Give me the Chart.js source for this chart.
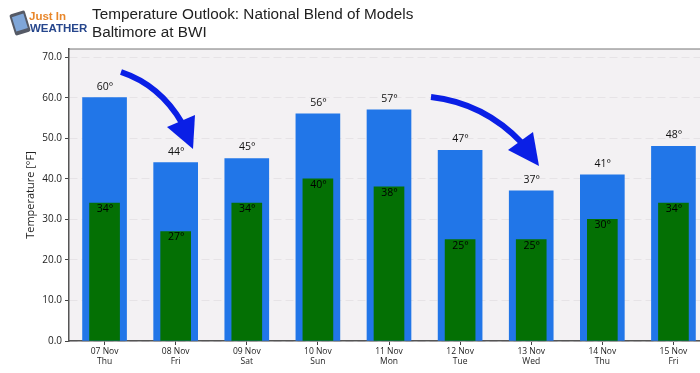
<!DOCTYPE html>
<html>
<head>
<meta charset="utf-8">
<style>
html, body { margin: 0; padding: 0; background: #fff; overflow: hidden; }
#wrap { position: relative; width: 700px; height: 373px; overflow: hidden; }
#wrap canvas { position: absolute; left: 0; top: 0; }
</style>
<script src="https://cdn.jsdelivr.net/npm/chart.js@4"></script>
</head>
<body>
<div id="wrap"><canvas id="diagram" width="709" height="373" style="width:709px;height:373px"></canvas></div>
<script>
const dates = ["07 Nov", "08 Nov", "09 Nov", "10 Nov", "11 Nov", "12 Nov", "13 Nov", "14 Nov", "15 Nov"];
const days = ["Thu", "Fri", "Sat", "Sun", "Mon", "Tue", "Wed", "Thu", "Fri"];
const highs = [60, 44, 45, 56, 57, 47, 37, 41, 48];
const lows = [34, 27, 34, 40, 38, 25, 25, 30, 34];
const titleLines = ["Temperature Outlook: National Blend of Models", "Baltimore at BWI"];

const tickFont = { family: "'Open Sans'", size: 8.5 };

function arrow(ctx, start, control, end, head) {
    ctx.strokeStyle = '#0a1fe6';
    ctx.fillStyle = '#0a1fe6';
    ctx.lineWidth = 6;
    ctx.beginPath();
    ctx.moveTo(start[0], start[1]);
    ctx.quadraticCurveTo(control[0], control[1], end[0], end[1]);
    ctx.stroke();
    ctx.beginPath();
    ctx.moveTo(head[0][0], head[0][1]);
    ctx.lineTo(head[1][0], head[1][1]);
    ctx.lineTo(head[2][0], head[2][1]);
    ctx.closePath();
    ctx.fill();
}

const backdrop = {
    id: 'backdrop',
    beforeDraw(chart) {
        const { ctx, chartArea: a } = chart;
        ctx.save();
        ctx.fillStyle = '#f3f1f3';
        ctx.fillRect(a.left, a.top, a.right - a.left, a.bottom - a.top);
        ctx.strokeStyle = '#777';
        ctx.lineWidth = 1;
        ctx.beginPath();
        ctx.moveTo(a.left, a.top);
        ctx.lineTo(a.right, a.top);
        ctx.stroke();
        ctx.restore();
    }
};

const overlay = {
    id: 'overlay',
    afterDraw(chart) {
        const { ctx } = chart;
        const x = chart.scales.x, y = chart.scales.y;
        ctx.save();

        // values over and inside the bars
        ctx.fillStyle = '#111';
        ctx.font = "10.5px 'Open Sans'";
        ctx.textAlign = 'center';
        ctx.textBaseline = 'middle';
        highs.forEach((v, i) => ctx.fillText(v + '°', x.getPixelForValue(i) + 0.5, y.getPixelForValue(v) - 11));
        ctx.fillStyle = '#000';
        lows.forEach((v, i) => ctx.fillText(v + '°', x.getPixelForValue(i) + 0.5, y.getPixelForValue(v) + 6));

        // arrows
        arrow(ctx, [121, 72], [160, 85], [182, 123], [[195, 115], [167, 127], [193, 149]]);
        arrow(ctx, [431, 97], [484, 103], [522, 143], [[533, 132], [508, 150], [539, 166]]);

        // title
        ctx.textAlign = 'left';
        ctx.textBaseline = 'alphabetic';
        ctx.fillStyle = '#222';
        ctx.font = "15.3px 'Liberation Sans'";
        titleLines.forEach((t, i) => ctx.fillText(t, 92, 19 + i * 17.5));

        // logo
        ctx.translate(20, 23);
        ctx.rotate(-0.3);
        ctx.fillStyle = '#555a66';
        ctx.beginPath();
        ctx.roundRect(-8, -11, 16, 22, 2);
        ctx.fill();
        ctx.fillStyle = '#7fa6d8';
        ctx.fillRect(-6, -8, 12, 15);
        ctx.setTransform(1, 0, 0, 1, 0, 0);
        ctx.fillStyle = '#e8862a';
        ctx.font = "bold 11.5px 'Liberation Sans'";
        ctx.fillText('Just In', 29, 20);
        ctx.fillStyle = '#26468c';
        ctx.font = "bold 11.5px 'Liberation Sans'";
        ctx.fillText('WEATHER', 30, 32);
        ctx.restore();
    }
};

new Chart(
    document.getElementById("diagram"),
    {
        type: 'bar',
        data: {
            labels: dates.map((d, i) => [d, days[i]]),
            datasets: [
                {
                    label: 'Low',
                    data: lows,
                    backgroundColor: '#047004',
                    barThickness: 30,
                    grouped: false,
                    order: 1
                },
                {
                    label: 'High',
                    data: highs,
                    backgroundColor: '#2176e8',
                    barThickness: 44,
                    grouped: false,
                    order: 2
                }
            ]
        },
        options: {
            responsive: false,
            animation: false,
            layout: { padding: { top: 49, left: 0, right: 0, bottom: 0 } },
            plugins: {
                legend: { display: false },
                tooltip: { enabled: false }
            },
            scales: {
                x: {
                    afterFit(scale) { scale.height = 32; },
                    grid: { drawOnChartArea: false, offset: false, color: '#444', tickLength: 4 },
                    border: { color: '#555', width: 1.5 },
                    ticks: { color: '#222', font: tickFont, padding: 1, maxRotation: 0 }
                },
                y: {
                    min: 0,
                    max: 72,
                    afterFit(scale) { scale.width = 69; },
                    title: {
                        display: true,
                        text: 'Temperature [°F]',
                        color: '#222',
                        font: { family: "'Open Sans'", size: 11 },
                        padding: { top: 24, bottom: 0 }
                    },
                    grid: { color: '#e6e3e6', tickColor: '#444', tickLength: 4 },
                    border: { color: '#555', width: 1.5, dash: [8, 4] },
                    ticks: {
                        stepSize: 10,
                        includeBounds: false,
                        color: '#222',
                        font: { family: "'Open Sans'", size: 10 },
                        padding: 3,
                        callback: v => v.toFixed(1)
                    }
                }
            }
        },
        plugins: [backdrop, overlay]
    }
);
</script>
</body>
</html>
